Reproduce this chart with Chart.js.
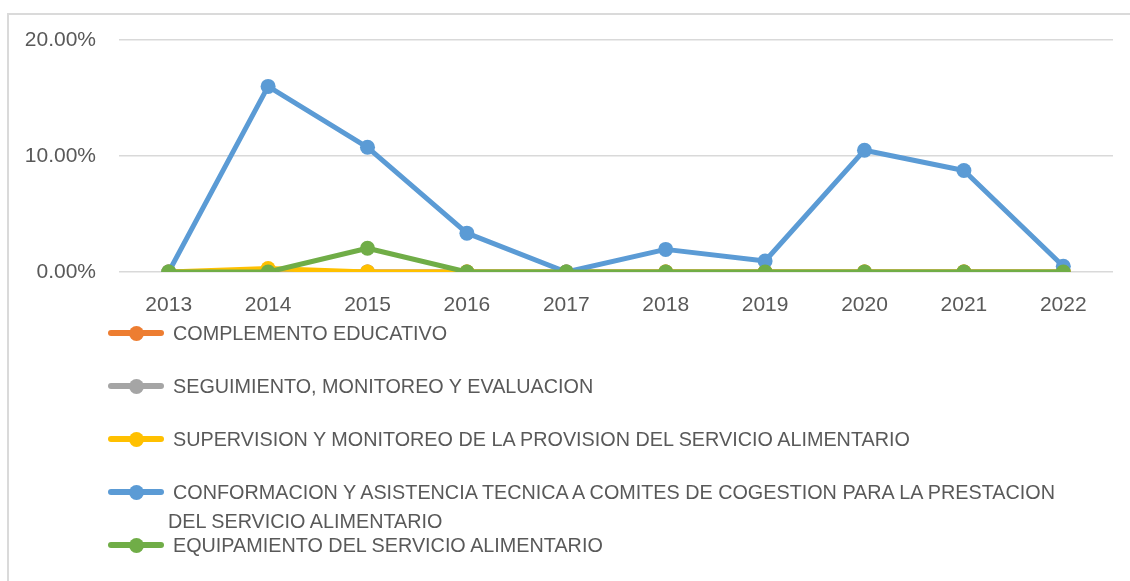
<!DOCTYPE html>
<html>
<head>
<meta charset="utf-8">
<script src="https://cdn.jsdelivr.net/npm/chart.js@4/dist/chart.umd.min.js"></script>
<style>
  html, body { margin: 0; padding: 0; background: #fff; }
  body { width: 1130px; height: 581px; position: relative; overflow: hidden;
         font-family: "Liberation Sans", Arial, sans-serif; }
  #frame { position: absolute; left: 7px; top: 13px; width: 1200px; height: 700px;
           border-top: 2px solid #dadada; border-left: 2px solid #dadada; box-sizing: border-box; }
  #wrap { position: absolute; left: 0; top: 0; width: 1130px; height: 322px; }
  #legend { position: absolute; left: 0; top: 0; width: 1130px; height: 581px; pointer-events: none; }
  .item { position: absolute; left: 0; height: 0; }
  .mk { position: absolute; left: 108px; top: -3px; width: 56px; height: 6px; border-radius: 3px; }
  .mk i { position: absolute; left: 21px; top: -4.5px; width: 15px; height: 15px; border-radius: 50%; background: inherit; }
  .tx { position: absolute; left: 168px; top: -14px; width: 900px; color: #595959;
        font-size: 19.8px; line-height: 29px; text-indent: 5px; white-space: normal; }
</style>
</head>
<body>
<div id="frame"></div>
<div id="wrap"><canvas id="c"></canvas></div>
<div id="legend"></div>
<script>
// Years on the category axis
const years = ['2013', '2014', '2015', '2016', '2017', '2018', '2019', '2020', '2021', '2022'];

// Share of each activity per year, in percent
const complementoEducativo = [0, 0, 0, 0, 0, 0, 0, 0, 0, 0];
const seguimientoMonitoreo = [0, 0, 0, 0, 0, 0, 0, 0, 0, 0];
const supervisionMonitoreo = [0, 0.3, 0, 0, 0, 0, 0, 0, 0, 0];
const conformacionAsistencia = [0, 16.0, 10.75, 3.35, 0, 1.95, 0.95, 10.5, 8.75, 0.5];
const equipamiento = [0, 0, 2.05, 0, 0, 0, 0, 0, 0, 0];

// Series names shown in the legend
const seriesNames = [
  'COMPLEMENTO EDUCATIVO',
  'SEGUIMIENTO, MONITOREO Y EVALUACION',
  'SUPERVISION Y MONITOREO DE LA PROVISION DEL SERVICIO ALIMENTARIO',
  'CONFORMACION Y ASISTENCIA TECNICA A COMITES DE COGESTION PARA LA PRESTACION DEL SERVICIO ALIMENTARIO',
  'EQUIPAMIENTO DEL SERVICIO ALIMENTARIO'
];
const seriesColors = ['#ED7D31', '#A5A5A5', '#FFC000', '#5B9BD5', '#70AD47'];

// Value axis ticks
const yTicks = [0, 10, 20];

const seriesValues = [complementoEducativo, seguimientoMonitoreo, supervisionMonitoreo, conformacionAsistencia, equipamiento];

const datasets = seriesValues.map((vals, i) => ({
  label: seriesNames[i],
  data: vals,
  borderColor: seriesColors[i],
  backgroundColor: seriesColors[i],
  pointBackgroundColor: seriesColors[i],
  pointBorderWidth: 0,
  pointRadius: 7.5,
  pointHoverRadius: 7.5,
  borderWidth: 5,
  borderCapStyle: 'round',
  borderJoinStyle: 'round',
  tension: 0,
  order: seriesValues.length - i
}));

const tickFont = { family: '"Liberation Sans", Arial, sans-serif', size: 21 };

const chart = new Chart(document.getElementById('c'), {
  type: 'line',
  data: { labels: years, datasets },
  options: {
    responsive: true,
    maintainAspectRatio: false,
    animation: false,
    layout: { padding: { top: 40, right: 17, left: 0, bottom: 0 } },
    plugins: { legend: { display: false }, tooltip: { enabled: false } },
    scales: {
      x: {
        offset: true,
        grid: { display: false, drawTicks: false },
        border: { display: false },
        ticks: { color: '#595959', font: tickFont, padding: 21, maxRotation: 0 },
        afterFit: s => { s.height = 50; }
      },
      y: {
        min: yTicks[0],
        max: yTicks[yTicks.length - 1],
        afterBuildTicks: s => { s.ticks = yTicks.map(v => ({ value: v })); },
        grid: { color: '#d9d9d9', lineWidth: 1.5, drawTicks: false },
        border: { display: false },
        ticks: { color: '#595959', font: tickFont, padding: 23,
                 callback: v => Number(v).toFixed(2) + '%' },
        afterFit: s => { s.width = 119; }
      }
    }
  }
});

// Legend below the plot: line-and-marker swatch plus the series name
const legend = document.getElementById('legend');
chart.data.datasets.forEach((ds, i) => {
  const item = document.createElement('div');
  item.className = 'item';
  item.style.top = (333 + i * 53) + 'px';
  const mk = document.createElement('div');
  mk.className = 'mk';
  mk.style.background = ds.borderColor;
  mk.appendChild(document.createElement('i'));
  const tx = document.createElement('div');
  tx.className = 'tx';
  tx.textContent = ds.label;
  item.appendChild(mk);
  item.appendChild(tx);
  legend.appendChild(item);
});
</script>
</body>
</html>
